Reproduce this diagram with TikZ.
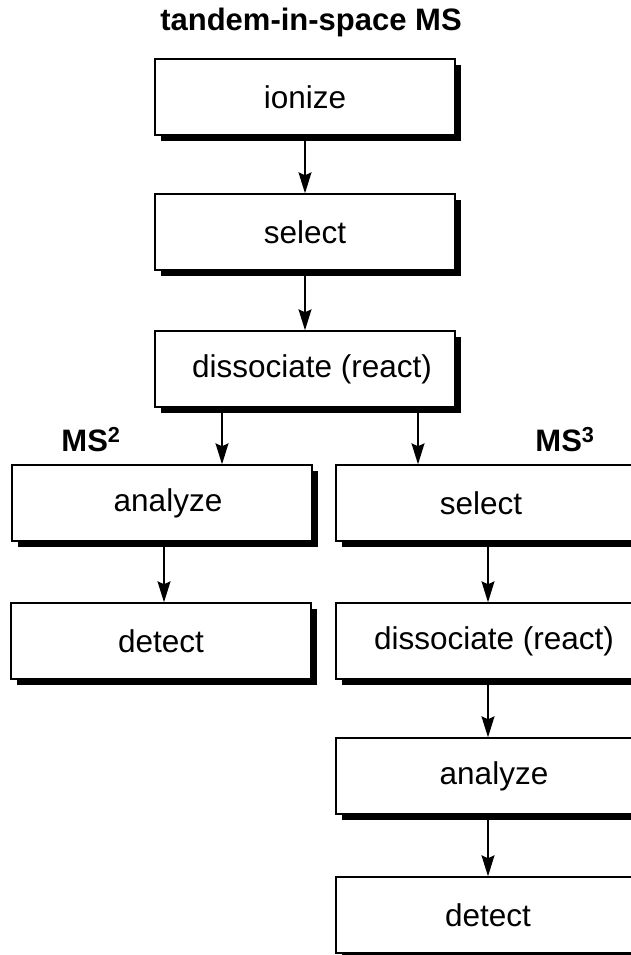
\documentclass[tikz,border=0pt]{standalone}
\usepackage{fontspec}
\setmainfont{Liberation Sans}
\usetikzlibrary{arrows.meta,shadows,calc}
\tikzset{
  box/.style={draw=black, line width=1.4pt, fill=white, minimum height=76pt,
    minimum width=300pt, inner sep=0pt,
    font=\fontsize{31.5}{36}\selectfont,
    drop shadow={shadow xshift=6pt, shadow yshift=-6pt, fill=black, opacity=1}},
  wbox/.style={box, minimum width=304pt},
  arr/.style={line width=1.4pt, -{Stealth[length=21pt,width=13pt,inset=3pt]}},
  lbl/.style={font=\fontsize{31}{36}\selectfont\bfseries, inner sep=0pt}
}
\begin{document}
\begin{tikzpicture}[x=1pt,y=-1pt]
\useasboundingbox (0,0) rectangle (631,955);
\clip (0,0) rectangle (631,955);
\fill[white] (0,0) rectangle (631,955);

\node[lbl] (title) at (311,22) {tandem-in-space MS};

\node[box] (ion) at (305,97) {ionize};
\node[box] (sel1) at (305,232) {select};
\node[box] (dis1) at (305,369) {\hspace*{14pt}dissociate (react)};

\node[lbl] (ms2) at (91,440) {MS\textsuperscript{2}};
\node[lbl] (ms3) at (565,440) {MS\textsuperscript{3}};

\node[box] (anL) at (162,503) {\hspace*{12pt}analyze};
\node[box] (detL) at (161,641) {detect};

\node[wbox] (selR) at (488,503) {select\hspace*{14pt}};
\node[wbox] (disR) at (488,641) {\hspace*{12pt}dissociate (react)};
\node[wbox] (anR) at (488,776) {\hspace*{12pt}analyze};
\node[wbox] (detR) at (488,915) {detect};

\draw[arr] (ion.south) -- (sel1.north);
\draw[arr] (sel1.south) -- (dis1.north);
\draw[arr] ([xshift=-83pt]dis1.south) -- ([xshift=60pt]anL.north);
\draw[arr] ([xshift=113pt]dis1.south) -- ([xshift=-70pt]selR.north);
\draw[arr] ([xshift=2pt]anL.south) -- ([xshift=2pt]anL.south |- detL.north);
\draw[arr] (selR.south) -- (disR.north);
\draw[arr] (disR.south) -- (anR.north);
\draw[arr] (anR.south) -- (detR.north);
\end{tikzpicture}
\end{document}
